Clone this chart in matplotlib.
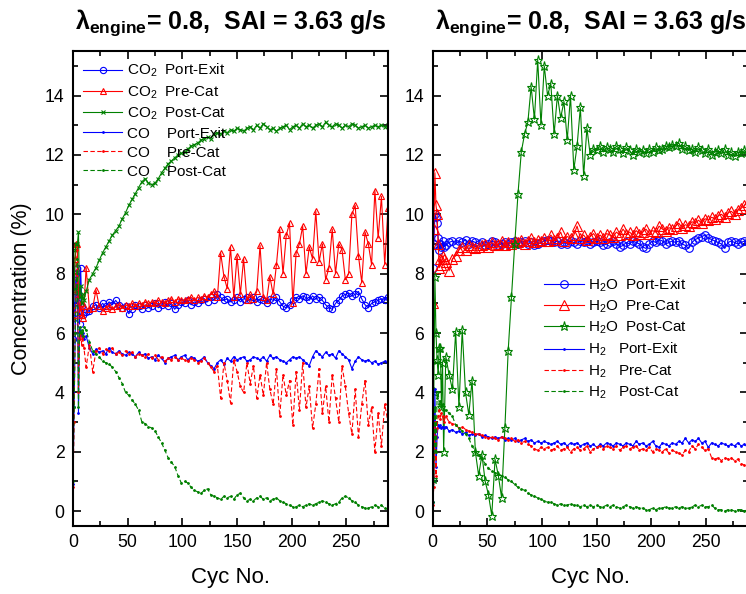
import matplotlib
matplotlib.use("Agg")
import matplotlib.pyplot as plt
from matplotlib.ticker import MultipleLocator

plt.rcParams['font.family'] = ['Liberation Sans', 'DejaVu Sans']
plt.rcParams['mathtext.fontset'] = 'custom'
plt.rcParams['mathtext.rm'] = 'Liberation Sans'
plt.rcParams['mathtext.bf'] = 'Liberation Sans:bold'
plt.rcParams['mathtext.default'] = 'regular'

# ---------------- data ----------------
cycles = list(range(0, 11)) + list(range(12, 289, 3))

co2_port_exit = [5.8, 6.5, 7.4, 8.0, 8.2, 7.0, 6.3, 8.2, 6.9, 6.6, 6.7,
    6.7, 6.75, 6.9, 6.95, 6.85, 7.0, 6.9, 7.05, 6.95, 7.1,
    6.95, 6.85, 6.9, 6.65, 6.8, 6.95, 6.9, 6.8, 6.95, 6.85,
    6.9, 7.0, 6.85, 6.95, 7.05, 6.9, 7.0, 6.8, 6.95, 7.05,
    7.0, 7.1, 6.95, 7.05, 7.0, 7.1, 7.15, 7.05, 7.2, 7.1,
    7.3, 7.2, 7.1, 7.15, 7.05, 7.1, 7.2, 7.05, 7.15, 7.2,
    7.1, 7.2, 7.05, 7.15, 7.1, 7.0, 7.15, 7.1, 7.2, 7.05,
    6.9, 6.85, 6.95, 7.1, 7.2, 7.15, 7.25, 7.2, 7.1, 7.25,
    7.15, 7.2, 7.1, 6.95, 6.85, 6.8, 7.0, 7.1, 7.25, 7.3,
    7.35, 7.25, 7.3, 7.4, 7.15, 6.95, 6.85, 7.0, 7.05, 7.1,
    7.15, 7.1, 7.2]

co2_pre_cat = [6.8, 7.5, 8.5, 9.0, 9.0, 7.3, 6.7, 7.0, 6.6, 6.5, 6.9,
    8.2, 6.8, 6.85, 7.45, 6.9, 6.75, 6.85, 6.9, 6.8, 6.9,
    6.95, 6.85, 6.95, 6.9, 7.0, 6.9, 7.0, 6.95, 7.05, 7.0,
    7.05, 7.0, 7.1, 7.05, 7.0, 7.1, 7.15, 7.05, 7.15, 7.1,
    7.1, 7.15, 7.2, 7.1, 7.2, 7.15, 7.25, 7.2, 7.3, 7.4,
    7.2, 8.7, 7.9, 7.5, 8.9, 7.2, 8.6, 7.3, 8.5, 7.1,
    7.3, 7.15, 7.4, 8.95, 7.2, 7.1, 7.9, 7.3, 8.3, 9.5,
    8.0, 9.3, 9.7, 7.0, 8.7, 9.0, 9.6, 8.0, 8.9, 8.5,
    10.1, 8.4, 9.0, 7.8, 8.2, 9.5, 8.0, 9.0, 8.8, 7.8,
    8.0, 10.0, 10.3, 8.6, 7.7, 9.4, 9.0, 8.3, 10.8, 9.2,
    10.6, 8.3, 10.2]

co2_post_cat = [6.5, 7.5, 8.8, 9.0, 9.0, 9.4, 7.2, 7.6, 7.0, 7.3, 7.1,
    7.4, 7.8, 8.0, 8.2, 8.45, 8.7, 8.9, 9.1, 9.3, 9.45,
    9.6, 9.85, 10.05, 10.3, 10.5, 10.7, 10.9, 11.1, 11.2, 11.05,
    11.0, 11.05, 11.2, 11.4, 11.55, 11.7, 11.8, 11.9, 12.0, 12.05,
    12.1, 12.2, 12.3, 12.35, 12.4, 12.5, 12.55, 12.6, 12.55, 12.7,
    12.75, 12.7, 12.8, 12.75, 12.85, 12.8, 12.9, 12.85, 12.8, 12.9,
    12.95, 12.85, 13.0, 12.9, 13.05, 12.95, 12.85, 12.9, 12.8, 12.9,
    12.95, 13.0, 12.85, 12.95, 13.0, 12.9, 13.05, 12.95, 13.0, 12.9,
    13.0, 13.05, 12.95, 13.1, 13.0, 12.95, 13.05, 13.0, 12.9, 13.0,
    12.95, 13.05, 13.0, 12.9, 12.95, 13.0, 12.9, 12.95, 13.0, 12.95,
    13.0, 12.95, 13.0]

co_port_exit = [0.9, 3.5, 6.0, 7.8, 8.0, 3.3, 6.1, 6.0, 5.9, 6.0, 5.8,
    5.9, 5.5, 5.3, 5.45, 5.35, 5.4, 5.3, 5.5, 5.35, 5.3,
    5.4, 5.3, 5.25, 5.35, 5.3, 5.2, 5.35, 5.25, 5.3, 5.15,
    5.2, 5.1, 5.25, 5.15, 5.0, 5.15, 5.2, 5.25, 5.1, 5.2,
    5.25, 5.1, 5.2, 5.15, 5.05, 5.1, 5.2, 5.0, 4.9, 4.8,
    5.0, 5.1, 4.95, 5.15, 5.05, 5.2, 5.1, 5.15, 5.2, 5.05,
    5.1, 5.2, 5.15, 5.1, 5.2, 5.05, 5.25, 5.15, 5.2, 5.1,
    5.05, 5.0, 5.1, 5.2, 5.15, 5.2, 5.1, 5.0, 4.9, 5.2,
    5.4, 5.3, 5.2, 5.35, 5.25, 5.3, 5.15, 5.4, 5.3, 5.2,
    5.1, 4.8, 5.05, 5.2, 5.1, 5.05, 5.1, 5.0, 5.05, 4.95,
    5.0, 5.05, 4.95]

co_pre_cat = [0.8, 3.0, 6.5, 8.0, 8.8, 4.0, 5.8, 6.0, 5.6, 5.9, 5.5,
    4.85, 5.6, 4.7, 5.4, 5.5, 5.3, 5.45, 5.4, 5.5, 5.3,
    5.35, 5.25, 5.4, 5.3, 5.35, 5.2, 5.3, 5.25, 5.2, 5.3,
    5.15, 5.25, 5.1, 5.2, 5.05, 5.15, 5.1, 5.2, 5.1, 5.15,
    5.1, 5.05, 5.15, 5.1, 5.0, 5.05, 5.15, 5.0, 4.85, 4.7,
    4.9, 3.8, 5.0, 4.4, 3.65, 5.1, 4.7, 4.2, 4.0, 5.0,
    4.3, 4.9, 3.8, 4.6, 3.9, 5.0, 4.1, 3.6, 4.8, 3.2,
    4.6, 3.9, 4.4, 2.9, 4.7, 3.4, 5.0, 3.5, 4.2, 2.8,
    3.6, 4.8, 3.3, 4.2, 3.0, 4.6, 3.8, 3.0, 4.9, 4.2,
    3.3, 2.6, 4.1, 2.5, 3.6, 4.4, 2.9, 3.5, 2.0, 3.3,
    2.2, 3.6, 3.0]

co_post_cat = [1.0, 3.5, 6.0, 7.5, 8.5, 3.5, 6.2, 6.0, 6.1, 5.9, 6.2,
    6.1, 5.7, 5.4, 5.3, 5.2, 5.05, 5.0, 4.95, 4.85, 4.7,
    4.5, 4.3, 4.0, 3.9, 3.75, 3.6, 3.4, 3.0, 2.95, 2.85,
    2.8, 2.7, 2.5, 2.3, 2.05, 1.8, 1.65, 1.5, 1.2, 0.95,
    1.0, 0.95, 0.8, 0.7, 0.65, 0.6, 0.7, 0.75, 0.55, 0.5,
    0.45, 0.4, 0.5, 0.45, 0.5, 0.4, 0.55, 0.6, 0.45, 0.35,
    0.4, 0.35, 0.45, 0.5, 0.4, 0.45, 0.35, 0.4, 0.45, 0.35,
    0.3, 0.25, 0.2, 0.15, 0.15, 0.2, 0.15, 0.2, 0.25, 0.2,
    0.25, 0.3, 0.35, 0.3, 0.25, 0.2, 0.25, 0.3, 0.45, 0.5,
    0.45, 0.35, 0.3, 0.2, 0.15, 0.1, 0.1, 0.15, 0.2, 0.15,
    0.2, 0.1, 0.05]

h2o_port_exit = [8.2, 9.0, 10.0, 9.9, 9.7, 9.2, 8.8, 9.0, 8.9, 9.1, 8.9,
    8.95, 9.05, 9.1, 9.0, 9.1, 9.05, 9.15, 9.0, 9.1, 9.05,
    9.0, 9.05, 8.95, 9.0, 9.1, 9.05, 8.95, 9.0, 9.05, 9.0,
    9.05, 9.1, 9.0, 9.05, 9.1, 9.0, 9.05, 8.95, 9.0, 9.05,
    9.1, 9.15, 9.1, 9.05, 9.1, 9.0, 9.05, 9.0, 9.1, 9.05,
    9.0, 9.1, 9.05, 9.1, 9.0, 9.05, 9.1, 9.05, 8.95, 9.0,
    9.05, 9.1, 9.0, 8.9, 8.95, 9.05, 9.0, 9.1, 9.05, 9.0,
    8.9, 8.85, 9.0, 9.1, 9.05, 9.15, 9.1, 9.0, 9.05, 9.1,
    9.05, 9.1, 9.0, 8.95, 8.85, 9.05, 9.15, 9.2, 9.25, 9.3,
    9.2, 9.15, 9.1, 9.05, 9.0, 8.85, 9.05, 9.1, 9.05, 9.0,
    9.05, 9.1, 9.05]

h2o_pre_cat = [7.0, 9.5, 11.4, 10.3, 10.0, 9.0, 8.2, 8.5, 8.3, 8.6, 8.5,
    8.4, 8.1, 8.5, 8.6, 8.8, 8.9, 8.8, 8.95, 8.9, 8.85,
    8.9, 8.95, 9.0, 8.9, 9.05, 8.95, 9.0, 9.1, 8.95, 9.05,
    9.0, 9.1, 9.05, 9.15, 9.0, 9.1, 9.2, 9.05, 9.15, 9.1,
    9.2, 9.1, 9.3, 9.15, 9.2, 9.4, 9.1, 9.25, 9.2, 9.3,
    9.6, 9.2, 9.3, 9.15, 9.25, 9.35, 9.2, 9.3, 9.2, 9.35,
    9.3, 9.25, 9.4, 9.3, 9.5, 9.35, 9.4, 9.3, 9.45, 9.35,
    9.4, 9.5, 9.35, 9.45, 9.4, 9.6, 9.5, 9.45, 9.55, 9.5,
    9.6, 9.7, 9.55, 9.65, 9.6, 9.75, 9.7, 9.8, 9.7, 9.85,
    9.8, 9.9, 9.85, 9.95, 10.0, 9.9, 10.05, 10.1, 10.0, 10.15,
    10.2, 10.3, 10.4]

h2o_post_cat = [1.1, 4.0, 7.9, 6.0, 5.1, 4.6, 5.5, 5.5, 3.5, 5.0, 2.0,
    5.2, 4.6, 4.1, 6.05, 3.5, 6.1, 4.0, 3.25, 4.4, 2.0,
    1.2, 1.9, 1.0, 0.55, -0.15, 1.75, 1.2, 0.45, 2.8, 5.4,
    7.2, 9.0, 10.7, 12.1, 12.7, 13.1, 14.3, 13.2, 15.2, 13.0,
    15.0, 14.0, 14.4, 12.7, 14.0, 13.25, 13.8, 12.5, 14.0, 11.5,
    12.3, 13.6, 11.3, 12.9, 12.0, 12.2, 12.15, 12.3, 12.1, 12.25,
    12.2, 12.1, 12.3, 12.2, 12.05, 12.25, 12.15, 12.0, 12.2, 12.1,
    12.15, 12.05, 12.2, 12.1, 12.25, 12.15, 12.2, 12.3, 12.25, 12.35,
    12.3, 12.4, 12.2, 12.3, 12.15, 12.2, 12.1, 12.25, 12.15, 12.05,
    12.2, 12.0, 12.1, 12.15, 12.05, 12.2, 12.0, 12.1, 11.95, 12.1,
    12.05, 12.15, 12.1]

h2_port_exit = [0.3, 1.0, 4.1, 1.5, 2.5, 2.9, 2.85, 2.9, 2.8, 2.85, 2.8,
    2.85, 2.7, 2.75, 2.65, 2.7, 2.6, 2.65, 2.55, 2.6, 2.55,
    2.6, 2.5, 2.55, 2.5, 2.45, 2.5, 2.45, 2.5, 2.4, 2.45,
    2.4, 2.45, 2.35, 2.4, 2.45, 2.35, 2.4, 2.3, 2.35, 2.3,
    2.35, 2.3, 2.25, 2.3, 2.35, 2.25, 2.3, 2.2, 2.3, 2.25,
    2.3, 2.2, 2.25, 2.3, 2.2, 2.25, 2.15, 2.25, 2.2, 2.3,
    2.25, 2.2, 2.3, 2.25, 2.2, 2.3, 2.25, 2.2, 2.35, 2.25,
    2.3, 2.2, 2.25, 2.35, 2.2, 2.15, 2.3, 2.25, 2.2, 2.3,
    2.25, 2.35, 2.3, 2.45, 2.3, 2.4, 2.35, 2.45, 2.3, 2.35,
    2.15, 2.3, 2.25, 2.2, 2.3, 2.25, 2.2, 2.25, 2.2, 2.3,
    2.2, 2.25, 2.15]

h2_pre_cat = [0.2, 0.8, 3.0, 1.2, 2.8, 3.2, 3.4, 3.1, 3.3, 3.2, 3.0,
    3.2, 3.0, 2.95, 2.9, 2.8, 2.85, 2.75, 2.7, 2.65, 2.6,
    2.6, 2.55, 2.5, 2.45, 2.5, 2.45, 2.4, 2.5, 2.45, 2.4,
    2.45, 2.35, 2.4, 2.3, 2.35, 2.25, 2.2, 2.1, 2.05, 2.15,
    2.1, 2.15, 2.05, 2.1, 2.2, 2.05, 2.1, 2.15, 2.0, 2.1,
    2.15, 2.05, 2.1, 2.2, 2.0, 2.1, 2.15, 2.2, 2.1, 2.2,
    2.15, 2.1, 2.2, 2.05, 2.15, 2.2, 2.1, 2.15, 2.2, 2.05,
    2.1, 2.05, 2.15, 2.0, 2.1, 2.05, 2.0, 2.1, 1.95, 2.05,
    2.0, 1.95, 1.9, 2.05, 2.0, 2.2, 2.1, 2.25, 2.15, 2.05,
    2.1, 1.8, 1.75, 1.8, 1.7, 1.8, 1.75, 1.8, 1.7, 1.75,
    1.6, 1.55, 1.4]

h2_post_cat = [0.3, 1.0, 3.5, 2.0, 3.8, 4.0, 3.6, 3.7, 3.5, 3.6, 3.4,
    3.4, 3.3, 3.2, 2.9, 2.8, 2.7, 2.6, 2.45, 2.2, 2.0,
    1.9, 1.75, 1.6, 1.45, 1.35, 1.3, 1.25, 1.2, 1.15, 1.05,
    1.0, 0.9, 0.8, 0.75, 0.7, 0.6, 0.55, 0.5, 0.45, 0.4,
    0.35, 0.3, 0.3, 0.25, 0.2, 0.25, 0.2, 0.2, 0.25, 0.2,
    0.2, 0.15, 0.2, 0.15, 0.2, 0.15, 0.2, 0.15, 0.15, 0.2,
    0.15, 0.2, 0.15, 0.1, 0.15, 0.2, 0.15, 0.1, 0.15, 0.1,
    0.1, 0.05, 0.05, 0.1, 0.05, 0.1, 0.1, 0.15, 0.1, 0.1,
    0.15, 0.1, 0.15, 0.1, 0.1, 0.15, 0.2, 0.15, 0.2, 0.15,
    0.15, 0.2, 0.1, 0.05, 0.05, 0.0, 0.05, 0.05, 0.0, 0.05,
    0.05, 0.0, 0.05]

left_labels = ['CO$_2$  Port-Exit', 'CO$_2$  Pre-Cat', 'CO$_2$  Post-Cat',
               'CO    Port-Exit', 'CO    Pre-Cat', 'CO    Post-Cat']
right_labels = ['H$_2$O  Port-Exit', 'H$_2$O  Pre-Cat', 'H$_2$O  Post-Cat',
                'H$_2$   Port-Exit', 'H$_2$   Pre-Cat', 'H$_2$   Post-Cat']
title_text = 'λ$_{engine}$= 0.8,  SAI = 3.63 g/s'

BLUE, RED, GREEN = '#0000ff', '#ff0000', '#008000'
DASH = (0, (4, 2.2))

fig = plt.figure(figsize=(7.46, 5.94), dpi=100)
ax1 = fig.add_axes([73 / 746, 1 - 526 / 594, 315 / 746, 475 / 594])
ax2 = fig.add_axes([432.7 / 746, 1 - 526 / 594, 315 / 746, 475 / 594])

lw = 0.8
# left panel
ax1.plot(cycles, co2_port_exit, color=BLUE, lw=lw, marker='o', ms=4.5, mfc='none', mew=0.8, label=left_labels[0])
ax1.plot(cycles, co2_pre_cat, color=RED, lw=lw, marker='^', ms=5, mfc='none', mew=0.8, label=left_labels[1])
ax1.plot(cycles, co2_post_cat, color=GREEN, lw=lw, marker='x', ms=3.5, mew=0.8, label=left_labels[2])
ax1.plot(cycles, co_port_exit, color=BLUE, lw=lw, marker='.', ms=2, label=left_labels[3])
ax1.plot(cycles, co_pre_cat, color=RED, lw=lw, ls=DASH, marker='.', ms=2, label=left_labels[4])
ax1.plot(cycles, co_post_cat, color=GREEN, lw=lw, ls=DASH, marker='.', ms=2, label=left_labels[5])

# right panel
ax2.plot(cycles, h2o_port_exit, color=BLUE, lw=lw, marker='o', ms=5.5, mfc='none', mew=0.8, label=right_labels[0])
ax2.plot(cycles, h2o_pre_cat, color=RED, lw=lw, marker='^', ms=6.5, mfc='none', mew=0.8, label=right_labels[1])
ax2.plot(cycles, h2o_post_cat, color=GREEN, lw=lw, marker='*', ms=6.5, mfc='none', mew=0.8, label=right_labels[2])
ax2.plot(cycles, h2_port_exit, color=BLUE, lw=lw, marker='.', ms=2, label=right_labels[3])
ax2.plot(cycles, h2_pre_cat, color=RED, lw=lw, ls=DASH, marker='.', ms=2, label=right_labels[4])
ax2.plot(cycles, h2_post_cat, color=GREEN, lw=lw, ls=DASH, marker='.', ms=2, label=right_labels[5])

for ax in (ax1, ax2):
    ax.set_xlim(0, 288)
    ax.set_ylim(-0.5, 15.5)
    ax.xaxis.set_major_locator(MultipleLocator(50))
    ax.xaxis.set_minor_locator(MultipleLocator(25))
    ax.yaxis.set_major_locator(MultipleLocator(2))
    ax.yaxis.set_minor_locator(MultipleLocator(1))
    ax.tick_params(which='both', direction='in', top=True, right=True,
                   labelsize=12.7, width=1.2, pad=6)
    ax.tick_params(which='major', length=6)
    ax.tick_params(which='minor', length=3.5)
    for sp in ax.spines.values():
        sp.set_linewidth(1.5)
    ax.set_xlabel('Cyc No.', fontsize=16, labelpad=11)
    ax.set_title(title_text, fontsize=18, fontweight='bold', pad=16)

ax1.set_ylabel('Concentration (%)', fontsize=15.5, labelpad=9)

common = dict(loc='upper left', frameon=False, fontsize=11, handlelength=2.6,
              handletextpad=0.3, labelspacing=0.32, borderpad=0, borderaxespad=0,
              numpoints=1)
ax1.legend(bbox_to_anchor=(0.031, 0.977), **common)
ax2.legend(bbox_to_anchor=(0.353, 0.526), **common)

fig.savefig('out.png', dpi=100)
